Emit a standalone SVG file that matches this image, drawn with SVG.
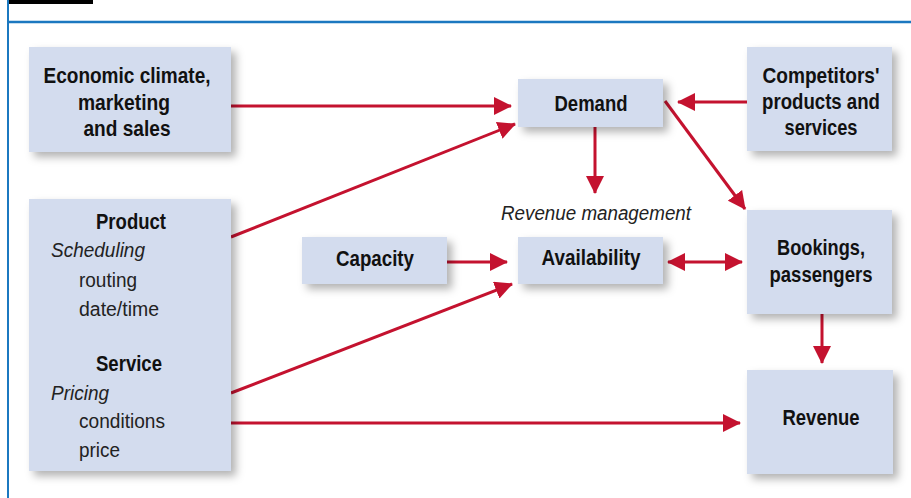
<svg xmlns="http://www.w3.org/2000/svg" width="911" height="498" viewBox="0 0 911 498">
  <style>
    .box { fill: #d3dcee; filter: url(#shadow); }
    .lbl { font-family: "Liberation Sans", Arial, sans-serif; font-weight: bold; font-size: 22px; fill: #111; text-anchor: middle; }
    .it { font-family: "Liberation Sans", Arial, sans-serif; font-style: italic; font-size: 19.5px; fill: #222; }
    .rg { font-family: "Liberation Sans", Arial, sans-serif; font-size: 19.5px; fill: #222; }
    .wire { fill: none; stroke: #c4122f; stroke-width: 3; }
    .frame { stroke: #1b78c0; fill: none; }
  </style>
  <defs>
    <filter id="shadow" x="-20%" y="-20%" width="150%" height="150%">
      <feDropShadow dx="5" dy="5" stdDeviation="4" flood-color="#000" flood-opacity="0.3"/>
    </filter>
    <marker id="head" markerUnits="userSpaceOnUse" markerWidth="18" markerHeight="18" refX="17" refY="9" orient="auto-start-reverse">
      <path d="M0,0 L18,9 L0,18 z" fill="#c4122f"/>
    </marker>
  </defs>

  <!-- page frame -->
  <rect x="7" y="0" width="86" height="4" fill="#000"/>
  <line class="frame" x1="8" y1="0" x2="8" y2="498" stroke-width="2"/>
  <line class="frame" x1="7" y1="22" x2="911" y2="22" stroke-width="2.5"/>

  <!-- connectors -->
  <g id="connectors">
    <line class="wire" x1="231" y1="106" x2="511" y2="106" marker-end="url(#head)"/>
    <line class="wire" x1="231" y1="237" x2="515" y2="124" marker-end="url(#head)"/>
    <line class="wire" x1="747" y1="102" x2="678" y2="102" marker-end="url(#head)"/>
    <line class="wire" x1="595" y1="127" x2="595" y2="193" marker-end="url(#head)"/>
    <line class="wire" x1="665" y1="101" x2="745" y2="209" marker-end="url(#head)"/>
    <line class="wire" x1="447" y1="262" x2="507" y2="262" marker-end="url(#head)"/>
    <line class="wire" x1="231" y1="393" x2="512" y2="284" marker-end="url(#head)"/>
    <line class="wire" x1="668" y1="262" x2="742" y2="262" marker-start="url(#head)" marker-end="url(#head)"/>
    <line class="wire" x1="822" y1="314" x2="822" y2="363" marker-end="url(#head)"/>
    <line class="wire" x1="231" y1="423" x2="740" y2="423" marker-end="url(#head)"/>
  </g>

  <!-- nodes -->
  <g id="economic">
    <rect class="box" x="29" y="47" width="202" height="105"/>
    <text class="lbl" x="127" y="83" textLength="167" lengthAdjust="spacingAndGlyphs">Economic climate,</text>
    <text class="lbl" x="124" y="110" textLength="92" lengthAdjust="spacingAndGlyphs">marketing</text>
    <text class="lbl" x="127" y="136" textLength="87" lengthAdjust="spacingAndGlyphs">and sales</text>
  </g>

  <g id="product-service">
    <rect class="box" x="29" y="199" width="202" height="272"/>
    <text class="lbl" x="131" y="229" textLength="70" lengthAdjust="spacingAndGlyphs">Product</text>
    <text class="it" x="51" y="257" textLength="94" lengthAdjust="spacingAndGlyphs">Scheduling</text>
    <text class="rg" x="79" y="287" textLength="58" lengthAdjust="spacingAndGlyphs">routing</text>
    <text class="rg" x="79" y="316" textLength="80" lengthAdjust="spacingAndGlyphs">date/time</text>
    <text class="lbl" x="129" y="371" textLength="66" lengthAdjust="spacingAndGlyphs">Service</text>
    <text class="it" x="51" y="400" textLength="58" lengthAdjust="spacingAndGlyphs">Pricing</text>
    <text class="rg" x="79" y="428" textLength="86" lengthAdjust="spacingAndGlyphs">conditions</text>
    <text class="rg" x="79" y="457" textLength="41" lengthAdjust="spacingAndGlyphs">price</text>
  </g>

  <g id="demand">
    <rect class="box" x="518" y="79" width="145" height="48"/>
    <text class="lbl" x="591" y="111" textLength="73" lengthAdjust="spacingAndGlyphs">Demand</text>
  </g>

  <g id="revenue-management">
    <text class="it" x="596" y="220" text-anchor="middle" textLength="190" lengthAdjust="spacingAndGlyphs">Revenue management</text>
  </g>

  <g id="capacity">
    <rect class="box" x="302" y="237" width="145" height="47"/>
    <text class="lbl" x="375" y="266" textLength="78" lengthAdjust="spacingAndGlyphs">Capacity</text>
  </g>

  <g id="availability">
    <rect class="box" x="518" y="237" width="145" height="47"/>
    <text class="lbl" x="591" y="265" textLength="99" lengthAdjust="spacingAndGlyphs">Availability</text>
  </g>

  <g id="competitors">
    <rect class="box" x="747" y="47" width="145" height="104"/>
    <text class="lbl" x="821" y="83" textLength="117" lengthAdjust="spacingAndGlyphs">Competitors'</text>
    <text class="lbl" x="821" y="109" textLength="118" lengthAdjust="spacingAndGlyphs">products and</text>
    <text class="lbl" x="821" y="135" textLength="73" lengthAdjust="spacingAndGlyphs">services</text>
  </g>

  <g id="bookings">
    <rect class="box" x="747" y="210" width="145" height="104"/>
    <text class="lbl" x="821" y="255" textLength="88" lengthAdjust="spacingAndGlyphs">Bookings,</text>
    <text class="lbl" x="821" y="282" textLength="103" lengthAdjust="spacingAndGlyphs">passengers</text>
  </g>

  <g id="revenue">
    <rect class="box" x="747" y="370" width="146" height="104"/>
    <text class="lbl" x="821" y="425" textLength="77" lengthAdjust="spacingAndGlyphs">Revenue</text>
  </g>
</svg>
